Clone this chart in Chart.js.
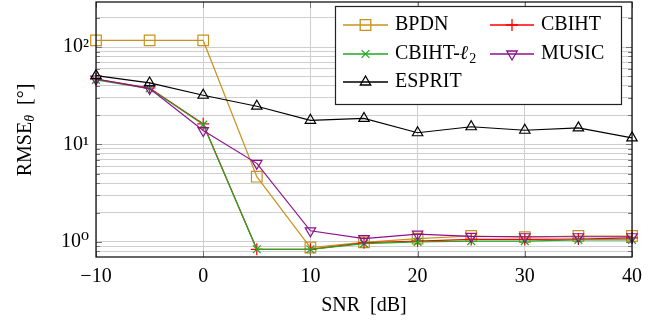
<!DOCTYPE html>
<html>
<head>
<meta charset="utf-8">
<script src="https://cdn.jsdelivr.net/npm/chart.js@4.4.1/dist/chart.umd.min.js"></script>
<style>
html, body { margin: 0; padding: 0; background: #fff; }
#wrap { width: 662px; height: 328px; }
</style>
</head>
<body>
<div id="wrap"><canvas id="grafico"></canvas></div>
<script>
// valores
const snr = [-10, -5, 0, 5, 10, 15, 20, 25, 30, 35, 40];
const bpdn = [117, 117, 117, 4.67, 0.876, 0.99, 1.08, 1.15, 1.12, 1.15, 1.15];
const cbiht = [47, 38, 16.3, 0.84, 0.84, 0.98, 1.02, 1.06, 1.06, 1.07, 1.1];
const cbihtL2 = [46, 37.5, 16.0, 0.84, 0.84, 0.96, 1.0, 1.02, 1.02, 1.05, 1.05];
const music = [47, 37.5, 13.9, 6.4, 1.3, 1.08, 1.2, 1.14, 1.13, 1.13, 1.13];
const esprit = [50.9, 42.8, 32, 24.7, 17.7, 18.5, 13.2, 15.2, 14, 14.8, 11.7];

const xTicks = [-10, 0, 10, 20, 30, 40];
const yTicks = [0.8, 0.9, 1, 2, 3, 4, 5, 6, 7, 8, 9, 10, 20, 30, 40, 50, 60, 70, 80, 90, 100, 200];

const fuente = '"Liberation Serif", "DejaVu Serif", serif';

const series = [
    { label: 'BPDN', data: bpdn, color: '#c8921c', style: 'rect', radius: 7.5, rot: 0 },
    { label: 'CBIHT', data: cbiht, color: '#ff0000', style: 'cross', radius: 6, rot: 0 },
    { label: 'CBIHT-ℓ2', data: cbihtL2, color: '#22a822', style: 'crossRot', radius: 5.5, rot: 0 },
    { label: 'MUSIC', data: music, color: '#8e108e', style: 'triangle', radius: 6, rot: 180 },
    { label: 'ESPRIT', data: esprit, color: '#000000', style: 'triangle', radius: 6, rot: 0 }
];

function esPotencia(v) {
    const l = Math.log10(v);
    return Math.abs(l - Math.round(l)) < 1e-9;
}

const sup = { '0': '\u2070', '1': '\u00b9', '2': '\u00b2', '3': '\u00b3' };

const marcoPlugin = {
    id: 'marco',
    afterDraw(chart) {
        const ctx = chart.ctx;
        const a = chart.chartArea;
        const sx = chart.scales.x;
        const sy = chart.scales.y;

        ctx.save();
        // marcas interiores
        ctx.strokeStyle = '#777';
        ctx.lineWidth = 1;
        ctx.beginPath();
        yTicks.forEach(v => {
            const y = Math.round(sy.getPixelForValue(v)) + 0.5;
            const l = esPotencia(v) ? 6 : 4;
            ctx.moveTo(a.left, y); ctx.lineTo(a.left + l, y);
            ctx.moveTo(a.right, y); ctx.lineTo(a.right - l, y);
        });
        xTicks.forEach(v => {
            const x = Math.round(sx.getPixelForValue(v)) + 0.5;
            ctx.moveTo(x, a.bottom); ctx.lineTo(x, a.bottom - 6);
            ctx.moveTo(x, a.top); ctx.lineTo(x, a.top + 6);
        });
        ctx.stroke();

        // marco
        ctx.strokeStyle = '#000';
        ctx.lineWidth = 1.2;
        ctx.strokeRect(a.left, a.top, a.right - a.left, a.bottom - a.top);

        // titulo eje x
        ctx.fillStyle = '#000';
        ctx.font = '20px ' + fuente;
        ctx.textAlign = 'center';
        ctx.textBaseline = 'middle';
        ctx.fillText('SNR  [dB]', (a.left + a.right) / 2, 306);

        // titulo eje y
        ctx.save();
        ctx.translate(24, 130);
        ctx.rotate(-Math.PI / 2);
        ctx.textAlign = 'left';
        ctx.textBaseline = 'alphabetic';
        ctx.font = '20px ' + fuente;
        const w1 = ctx.measureText('RMSE').width;
        ctx.font = 'italic 14px ' + fuente;
        const w2 = ctx.measureText('θ').width;
        ctx.font = '20px ' + fuente;
        const w3 = ctx.measureText('  [°]').width;
        let x0 = -(w1 + w2 + w3) / 2;
        ctx.fillText('RMSE', x0, 7);
        ctx.font = 'italic 14px ' + fuente;
        ctx.fillText('θ', x0 + w1, 10);
        ctx.font = '20px ' + fuente;
        ctx.fillText('  [°]', x0 + w1 + w2, 7);
        ctx.restore();

        // leyenda
        ctx.fillStyle = '#fff';
        ctx.fillRect(335, 6, 287, 99);
        ctx.strokeStyle = '#222';
        ctx.lineWidth = 1.2;
        ctx.strokeRect(335.5, 6.5, 286, 98);

        const pos = [
            { x1: 343, x2: 388, y: 25 },
            { x1: 490, x2: 534, y: 25 },
            { x1: 343, x2: 388, y: 54 },
            { x1: 490, x2: 534, y: 54 },
            { x1: 343, x2: 388, y: 82 }
        ];
        series.forEach((s, i) => {
            const p = pos[i];
            ctx.strokeStyle = s.color;
            ctx.lineWidth = 1.3;
            ctx.beginPath();
            ctx.moveTo(p.x1, p.y); ctx.lineTo(p.x2, p.y);
            ctx.stroke();
            ctx.fillStyle = 'rgba(0,0,0,0)';
            Chart.helpers.drawPoint(ctx, {
                pointStyle: s.style, rotation: s.rot, radius: s.radius, borderWidth: 1.2
            }, (p.x1 + p.x2) / 2, p.y);

            ctx.fillStyle = '#000';
            ctx.textAlign = 'left';
            ctx.textBaseline = 'middle';
            const tx = p.x2 + 7;
            if (s.label === 'CBIHT-ℓ2') {
                ctx.font = '20px ' + fuente;
                ctx.fillText('CBIHT-', tx, p.y);
                const w = ctx.measureText('CBIHT-').width;
                ctx.font = 'italic 20px ' + fuente;
                ctx.fillText('ℓ', tx + w, p.y);
                const wl = ctx.measureText('ℓ').width;
                ctx.font = '14px ' + fuente;
                ctx.fillText('2', tx + w + wl + 1, p.y + 5);
            } else {
                ctx.font = '20px ' + fuente;
                ctx.fillText(s.label, tx, p.y);
            }
        });
        ctx.restore();
    }
};

const ctx = document.getElementById('grafico').getContext('2d');

new Chart(ctx, {
    type: 'line',
    data: {
        datasets: series.map((s, i) => ({
            label: s.label,
            data: snr.map((x, k) => ({ x: x, y: s.data[k] })),
            borderColor: s.color,
            backgroundColor: 'rgba(0,0,0,0)',
            borderWidth: 1.2,
            pointStyle: s.style,
            pointRotation: s.rot,
            pointRadius: s.radius,
            pointBorderWidth: 1.2,
            pointBorderColor: s.color,
            pointBackgroundColor: 'rgba(0,0,0,0)',
            tension: 0,
            fill: false,
            clip: false,
            order: series.length - i
        }))
    },
    options: {
        responsive: true,
        maintainAspectRatio: false,
        animation: false,
        layout: { autoPadding: false, padding: { left: 0, right: 30, top: 2, bottom: 0 } },
        plugins: {
            legend: { display: false },
            tooltip: { enabled: false }
        },
        scales: {
            x: {
                type: 'linear',
                min: -10,
                max: 40,
                afterBuildTicks: s => { s.ticks = xTicks.map(v => ({ value: v })); },
                afterFit: s => { s.height = 71; s.paddingLeft = 0; s.paddingRight = 0; },
                grid: { color: '#cfcfcf', lineWidth: 1, drawTicks: false },
                border: { display: false },
                ticks: {
                    autoSkip: false,
                    maxRotation: 0,
                    padding: 8,
                    color: '#000',
                    font: { family: fuente, size: 20 },
                    callback: v => v < 0 ? '\u2212' + Math.abs(v) : String(v)
                }
            },
            y: {
                type: 'logarithmic',
                min: 0.715,
                max: 290,
                afterBuildTicks: s => { s.ticks = yTicks.map(v => ({ value: v })); },
                afterFit: s => { s.width = 96; s.paddingTop = 0; s.paddingBottom = 0; },
                grid: { color: '#cfcfcf', lineWidth: 1, drawTicks: false },
                border: { display: false },
                ticks: {
                    autoSkip: false,
                    padding: 7,
                    color: '#000',
                    font: { family: fuente, size: 20 },
                    callback: v => {
                        if (!esPotencia(v)) return '';
                        const e = Math.round(Math.log10(v));
                        return '10' + sup[String(e)];
                    }
                }
            }
        }
    },
    plugins: [marcoPlugin]
});
</script>
</body>
</html>
